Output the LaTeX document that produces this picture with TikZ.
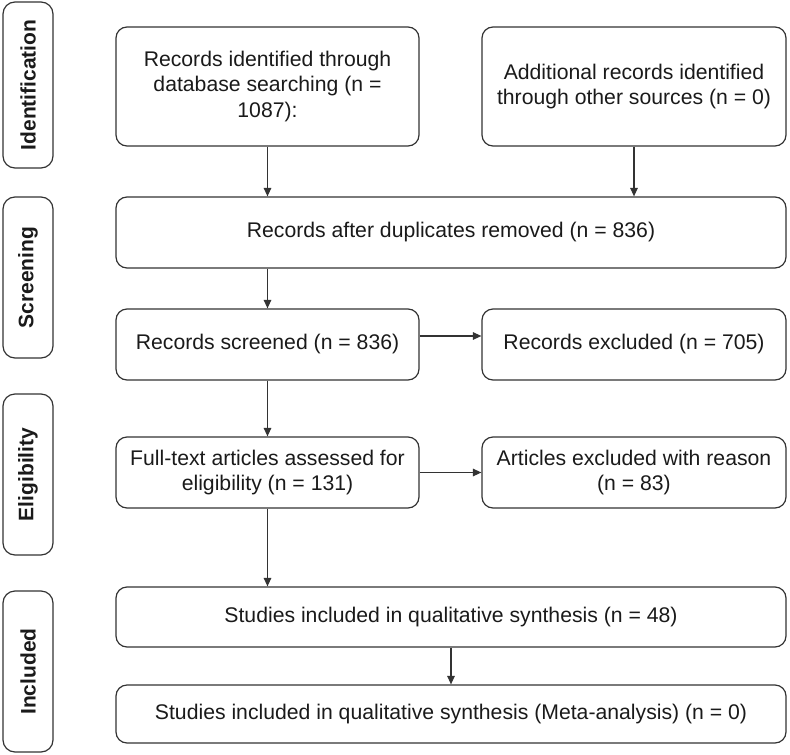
\documentclass[tikz,border=0pt]{standalone}
\usepackage{fontspec}
\setmainfont{Liberation Sans}
\usetikzlibrary{arrows.meta}
\definecolor{linec}{HTML}{333333}
\definecolor{textc}{HTML}{1A1A1A}
\begin{document}
\begin{tikzpicture}[x=1pt,y=1pt,
  box/.style={draw=linec, line width=1.2pt, rounded corners=11pt, align=center,
    inner sep=0pt, text=textc, font=\fontsize{21.2}{25.5}\selectfont},
  phase/.style={draw=linec, line width=1.2pt, rounded corners=12pt, rotate=90,
    inner sep=0pt, minimum height=50pt, text=textc, font=\fontsize{21}{25}\selectfont\bfseries},
  arr/.style={draw=linec, line width=1.2pt, -{Triangle[length=8.5pt,width=7.5pt]}}]
\useasboundingbox (0,0) rectangle (790,-755);
% phase labels
\node[phase, minimum width=166pt] (pid) at (28,-85) {Identification};
\node[phase, minimum width=161pt] (psc) at (28,-277.5) {Screening};
\node[phase, minimum width=161pt] (pel) at (28,-474.5) {Eligibility};
\node[phase, minimum width=161pt] (pin) at (28,-671.5) {Included};
% boxes
\node[box, minimum width=303pt, minimum height=119pt] (id1) at (267.5,-86.5)
  {Records identified through\\database searching (n =\\1087):};
\node[box, minimum width=304pt, minimum height=119pt] (id2) at (634,-86.5)
  {Additional records identified\\through other sources (n = 0)};
\node[box, minimum width=670pt, minimum height=71pt] (dup) at (451,-232.5)
  {Records after duplicates removed (n = 836)};
\node[box, minimum width=303pt, minimum height=71pt] (scr) at (267.5,-344.5)
  {Records screened (n = 836)};
\node[box, minimum width=304pt, minimum height=71pt] (exc) at (634,-344.5)
  {Records excluded (n = 705)};
\node[box, minimum width=303pt, minimum height=71pt] (ft) at (267.5,-472.5)
  {Full-text articles assessed for\\eligibility (n = 131)};
\node[box, minimum width=304pt, minimum height=71pt] (art) at (634,-472.5)
  {Articles excluded with reason\\(n = 83)};
\node[box, minimum width=670pt, minimum height=60pt] (inc1) at (451,-617)
  {Studies included in qualitative synthesis (n = 48)};
\node[box, minimum width=670pt, minimum height=58pt] (inc2) at (451,-714)
  {Studies included in qualitative synthesis (Meta-analysis) (n = 0)};
% connectors
\draw[arr] (id1.south) -- (id1.south |- dup.north);
\draw[arr] (id2.south) -- (id2.south |- dup.north);
\draw[arr] (scr.north |- dup.south) -- (scr.north);
\draw[arr] ([yshift=8.5pt]scr.east) -- ([yshift=8.5pt]scr.east -| exc.west);
\draw[arr] (scr.south) -- (ft.north);
\draw[arr] (ft.east) -- (art.west);
\draw[arr] (ft.south) -- (ft.south |- inc1.north);
\draw[arr] (inc1.south) -- (inc2.north);
\end{tikzpicture}
\end{document}
